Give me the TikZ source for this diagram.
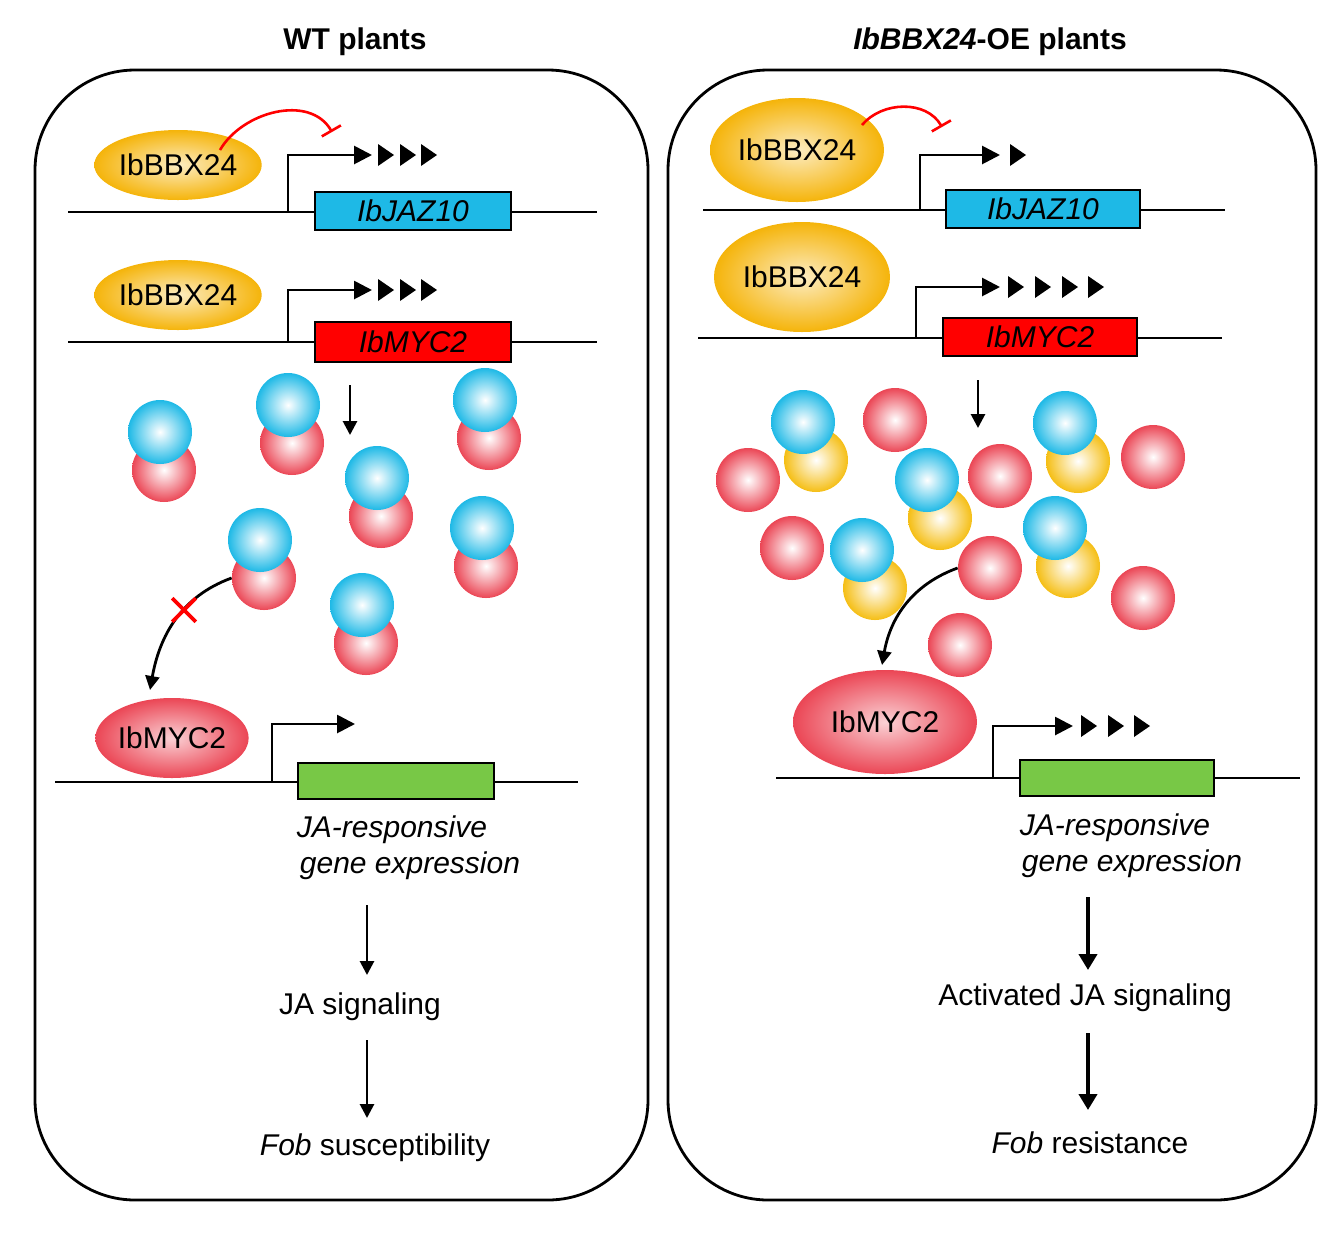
\documentclass[tikz,border=0pt]{standalone}
\usepackage{fontspec}
\setmainfont{Liberation Sans}
\usetikzlibrary{shapes.geometric,shapes.misc,arrows.meta}
\begin{document}
\begin{tikzpicture}[x=0.5pt,y=-0.5pt,
  lbl/.style={font=\fontsize{15}{18}\selectfont},
  prot/.style={ellipse,shade,inner color=#1!25!white,outer color=#1,inner sep=0pt,font=\fontsize{15}{18}\selectfont},
  gene/.style={draw=black,line width=1.3pt,inner sep=0pt,font=\fontsize{15}{18}\selectfont\itshape},
  dna/.style={line width=1.4pt},
  prom/.style={line width=1.4pt,-{Triangle[length=9pt,width=9pt]}},
  down/.style={line width=1.4pt,-{Triangle[length=7pt,width=7pt]}},
  ball/.style={circle,minimum size=32pt,inner sep=0pt,shade,inner color=white,middle color=#1!70!white,outer color=#1},
  inh/.style={red,line width=1.3pt,-{Bar[width=11pt]}}]
\definecolor{pk}{RGB}{235,70,85}
\definecolor{bl}{RGB}{30,185,230}
\definecolor{yl}{RGB}{245,190,20}
\definecolor{or}{RGB}{245,180,10}
\definecolor{gr}{RGB}{120,200,70}
\useasboundingbox (0,0) rectangle (1340,1239);
\node[font=\fontsize{15}{18}\selectfont\bfseries] (t1) at (355,42) {WT plants};
\node[font=\fontsize{15}{18}\selectfont\bfseries] (t2) at (990,42) {\textit{IbBBX24}-OE plants};
\draw[line width=1.4pt,rounded corners=50pt] (35,70) rectangle (648,1200);
\draw[line width=1.4pt,rounded corners=50pt] (668,70) rectangle (1316,1200);
\newcommand{\tris}[2]{\foreach \xx in {#1}{\fill (\xx,#2-11) -- (\xx+16,#2) -- (\xx,#2+11) -- cycle;}}
% ---------- left
\draw[dna] (68,212) -- (597,212);
\node[gene,fill=bl,minimum width=98pt,minimum height=19pt] (j1) at (413,211) {IbJAZ10};
\node[prot=or,minimum width=75pt,minimum height=35pt] (b1) at (178,165) {IbBBX24};
\draw[prom] (288,212) |- (372,155);
\tris{378,400,421}{155}
\draw[inh] (220,150) to[out=60,in=120] (332,132);
\draw[dna] (68,342) -- (597,342);
\node[gene,fill=red,minimum width=98pt,minimum height=20pt] (m1) at (413,342) {IbMYC2};
\node[prot=or,minimum width=75pt,minimum height=35pt] (b2) at (178,295) {IbBBX24};
\draw[prom] (288,342) |- (372,290);
\tris{378,400,421}{290}
\draw[down] (350,385) -- (350,435);
\foreach \a/\b [count=\i] in {160/432,288/405,485/400,377/478,482/528,260/540,362/605}{
  \node[ball=pk] (r\i) at (\a+4,\b+38) {};
  \node[ball=bl] (c\i) at (\a,\b) {};}
\node[prot=pk,minimum width=70pt,minimum height=40pt] (y1) at (172,738) {IbMYC2};
\draw[down] (r6.west) to[out=200,in=80] (150,690);
\node[cross out,draw=red,line width=1.8pt,minimum size=10pt,inner sep=0pt] (x1) at (184,610) {};
\draw[dna] (55,782) -- (578,782);
\node[gene,fill=gr,minimum width=98pt,minimum height=18pt] (g1) at (396,781) {};
\draw[prom] (272,782) |- (355,724);
\node[lbl,font=\fontsize{15}{18}\selectfont\itshape] (e1) at (392,830) {JA-responsive};
\node[lbl,font=\fontsize{15}{18}\selectfont\itshape] (e2) at (410,866) {gene expression};
\node[lbl] (s1) at (360,1007) {JA signaling};
\node[lbl] (f1) at (375,1148) {\textit{Fob} susceptibility};
\coordinate (a1) at (367,905); \coordinate (a2) at (367,975);
\coordinate (a3) at (367,1040); \coordinate (a4) at (367,1118);
\draw[down] (a1) -- (a2);
\draw[down] (a3) -- (a4);
% ---------- right
\draw[dna] (703,210) -- (1225,210);
\node[gene,fill=bl,minimum width=97pt,minimum height=19pt] (j2) at (1043,209) {IbJAZ10};
\node[prot=or,minimum width=87pt,minimum height=52pt] (b3) at (797,150) {IbBBX24};
\draw[prom] (920,210) |- (1000,155);
\tris{1010}{155}
\draw[inh] (862,125) to[out=50,in=120] (942,127);
\draw[dna] (698,338) -- (1222,338);
\node[gene,fill=red,minimum width=97pt,minimum height=19pt] (m2) at (1040,337) {IbMYC2};
\node[prot=or,minimum width=88pt,minimum height=55pt] (b4) at (802,277) {IbBBX24};
\draw[prom] (916,338) |- (1000,287);
\tris{1008,1035,1062,1088}{287}
\draw[down] (978,380) -- (978,428);
\foreach \a/\b [count=\i] in {803/422,1065/423,927/480,862/550,1055/528}{
  \node[ball=yl] (o\i) at (\a+13,\b+38) {};
  \node[ball=bl] (d\i) at (\a,\b) {};}
\foreach \a/\b [count=\i] in {895/420,748/480,1000/476,1153/457,792/548,990/568,1143/598,960/645}{
  \node[ball=pk] (p\i) at (\a,\b) {};}
\node[prot=pk,minimum width=92pt,minimum height=52pt] (y2) at (885,722) {IbMYC2};
\draw[down] (p6.west) to[out=200,in=80] (882,665);
\draw[dna] (776,778) -- (1300,778);
\node[gene,fill=gr,minimum width=97pt,minimum height=18pt] (g2) at (1117,778) {};
\draw[prom] (993,778) |- (1073,726);
\tris{1081,1108,1134}{726}
\node[lbl,font=\fontsize{15}{18}\selectfont\itshape] (e3) at (1115,828) {JA-responsive};
\node[lbl,font=\fontsize{15}{18}\selectfont\itshape] (e4) at (1132,864) {gene expression};
\node[lbl] (s2) at (1085,998) {Activated JA signaling};
\node[lbl] (f2) at (1090,1143) {\textit{Fob} resistance};
\coordinate (b1a) at (1088,897); \coordinate (b2a) at (1088,970);
\coordinate (b3a) at (1088,1033); \coordinate (b4a) at (1088,1110);
\draw[line width=2.4pt,-{Triangle[length=8pt,width=9pt]}] (b1a) -- (b2a);
\draw[line width=2.4pt,-{Triangle[length=8pt,width=9pt]}] (b3a) -- (b4a);
\end{tikzpicture}
\end{document}
